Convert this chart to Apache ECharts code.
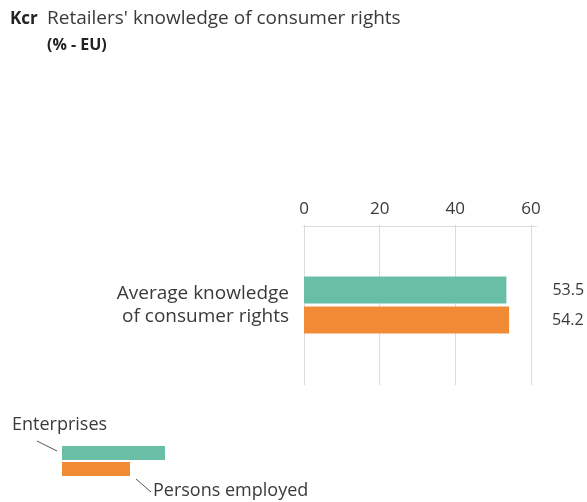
<!DOCTYPE html>
<html>
<head>
<meta charset="utf-8">
<script src="https://cdn.jsdelivr.net/npm/echarts@6/dist/echarts.min.js"></script>
<style>
  html, body { margin: 0; padding: 0; background: #fff; }
  #chart { width: 587px; height: 502px; }
</style>
</head>
<body>
<div id="chart"></div>
<script>
// Survey indicator: retailers' knowledge of consumer rights, EU level (%)
const categories = ['Average knowledge\nof consumer rights'];
const enterprises = [53.5];
const personsEmployed = [54.2];
const tickValues = [0, 20, 40, 60];

const FONT = '"Open Sans", "Noto Sans", sans-serif';
const TEAL = '#68bfa6';
const ORANGE = '#f18a35';
const TEXT = '#3a3a3a';

const chart = echarts.init(document.getElementById('chart'), null, { renderer: 'canvas' });

function valueLabel(dist) {
  return {
    show: true,
    position: 'right',
    distance: dist,
    color: TEXT,
    fontFamily: FONT,
    fontSize: 16,
    formatter: p => p.value.toFixed(1)
  };
}

function txt(x, y, text, font, fill) {
  return { type: 'text', x: x, y: y, style: { text: text, font: font, fill: fill || TEXT, verticalAlign: 'middle' } };
}

chart.setOption({
  animation: false,
  backgroundColor: '#fff',
  textStyle: { fontFamily: FONT },
  grid: { left: 304, top: 225, width: 227, height: 160, containLabel: false },
  xAxis: {
    type: 'value',
    position: 'top',
    min: tickValues[0],
    max: tickValues[tickValues.length - 1],
    interval: 20,
    axisLine: { show: false },
    axisTick: { show: false },
    axisLabel: { color: TEXT, fontSize: 17, fontFamily: FONT, margin: 7 },
    splitLine: { show: true, lineStyle: { color: '#dcdcdc', width: 1 } }
  },
  yAxis: {
    type: 'category',
    inverse: true,
    data: categories,
    axisLine: { show: false },
    axisTick: { show: false },
    axisLabel: {
      color: TEXT, fontSize: 19, fontFamily: FONT, margin: 15,
      align: 'right', lineHeight: 23, padding: [0, 0, 10, 0]
    }
  },
  series: [
    {
      name: 'Enterprises',
      type: 'bar',
      data: enterprises,
      barWidth: 27,
      barGap: '11%',
      itemStyle: { color: TEAL },
      label: valueLabel(46)
    },
    {
      name: 'Persons employed',
      type: 'bar',
      data: personsEmployed,
      barWidth: 27,
      itemStyle: { color: ORANGE },
      label: valueLabel(43)
    }
  ],
  graphic: [
    // top rule across the plot area
    { type: 'line', shape: { x1: 303, y1: 226.5, x2: 537, y2: 226.5 }, style: { stroke: '#dcdcdc', lineWidth: 1 } },
    // heading
    txt(10, 19, 'Kcr', 'bold 17px ' + FONT, '#222'),
    txt(47, 19, "Retailers' knowledge of consumer rights", '19px ' + FONT),
    txt(47, 45, '(% - EU)', 'bold 16px ' + FONT, '#222'),
    // key
    txt(12, 425, 'Enterprises', '18px ' + FONT),
    { type: 'line', shape: { x1: 37, y1: 441, x2: 57, y2: 451 }, style: { stroke: '#555', lineWidth: 1 } },
    { type: 'rect', shape: { x: 62, y: 446, width: 103, height: 14 }, style: { fill: TEAL } },
    { type: 'rect', shape: { x: 62, y: 462, width: 68, height: 14 }, style: { fill: ORANGE } },
    { type: 'line', shape: { x1: 136, y1: 479, x2: 151, y2: 492 }, style: { stroke: '#555', lineWidth: 1 } },
    txt(153, 491, 'Persons employed', '18px ' + FONT)
  ]
});
</script>
</body>
</html>
